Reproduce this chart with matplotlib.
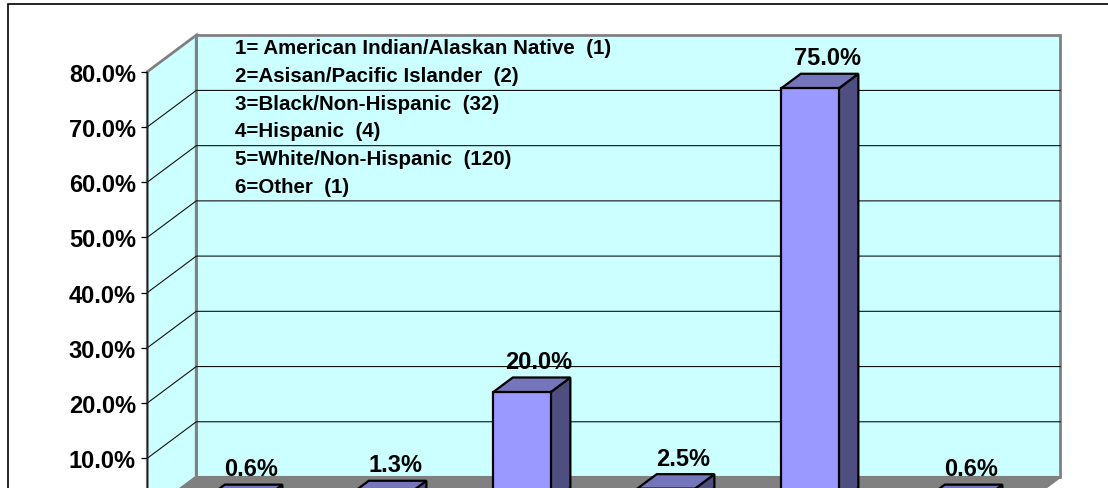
import matplotlib
matplotlib.use("Agg")
import matplotlib.pyplot as plt
from matplotlib.patches import Polygon, Rectangle

plt.rcParams['font.family'] = ['Liberation Sans', 'DejaVu Sans']

# Survey counts by race / ethnicity (n = 160)
categories = [1, 2, 3, 4, 5, 6]
percents = [0.6, 1.3, 20.0, 2.5, 75.0, 0.6]
value_labels = ['0.6%', '1.3%', '20.0%', '2.5%', '75.0%', '0.6%']
tick_values = [10, 20, 30, 40, 50, 60, 70, 80]
tick_labels = ['10.0%', '20.0%', '30.0%', '40.0%',
               '50.0%', '60.0%', '70.0%', '80.0%']
key_lines = [
    '1= American Indian/Alaskan Native  (1)',
    '2=Asisan/Pacific Islander  (2)',
    '3=Black/Non-Hispanic  (32)',
    '4=Hispanic  (4)',
    '5=White/Non-Hispanic  (120)',
    '6=Other  (1)',
]

# Colours of the 3-D look
FRONT = '#9999FF'
TOP = '#7575BB'
SIDE = '#4E4E80'
WALL = '#CCFFFF'
FLOOR = '#808080'
GRAY = '#808080'

# Depth of the plot box (in category units / percent units)
DX = 0.34
DY = 6.61
half_w = 0.2          # half bar width
d0, d1 = 0.3, 0.7     # bar position inside the depth

fig = plt.figure(figsize=(11.08, 4.89), dpi=100)
fig.patch.set_facecolor('white')

# Axes = front plane of the 3-D box
ax = fig.add_axes([0.13294, -0.05215, 0.77978, 0.90348])
ax.set_xlim(0.5, 6.5)
ax.set_ylim(0, 80)
ax.set_facecolor('none')
for s in ['top', 'right', 'bottom']:
    ax.spines[s].set_visible(False)
ax.spines['left'].set_color('#202020')
ax.spines['left'].set_linewidth(1.0)
ax.spines['left'].set_zorder(6)
ax.set_xticks([])
ax.set_yticks(tick_values)
ax.set_yticklabels(tick_labels, fontsize=17, fontweight='bold')
ax.tick_params(axis='y', direction='out', length=4.3, width=0.9, pad=4.0)

xmin, xmax = 0.5, 6.5
ymax = tick_values[-1]

# Back wall
back = Polygon([(xmin + DX, DY), (xmax + DX, DY), (xmax + DX, ymax + DY),
                (xmin + DX, ymax + DY)], closed=True, facecolor=WALL,
               edgecolor=GRAY, linewidth=2, clip_on=False, zorder=1)
ax.add_patch(back)

# Side wall
side = Polygon([(xmin, 0), (xmin, ymax), (xmin + DX, ymax + DY),
                (xmin + DX, DY)], closed=True, facecolor=WALL,
               edgecolor=GRAY, linewidth=2, clip_on=False, zorder=1)
ax.add_patch(side)

# Gridlines across side wall and back wall
for v in tick_values[:-1]:
    ax.plot([xmin, xmin + DX, xmax + DX], [v, v + DY, v + DY],
            color='#111111', linewidth=0.8, clip_on=False, zorder=2)

# Floor
floor = Polygon([(xmin, 0), (xmax, 0), (xmax + DX, DY), (xmin + DX, DY)],
                closed=True, facecolor=FLOOR, edgecolor=GRAY, linewidth=1.5,
                clip_on=False, zorder=3)
ax.add_patch(floor)

# Bars
for x, v, lbl in zip(categories, percents, value_labels):
    xl = x - half_w
    xr = x + half_w
    front = [(xl + d0 * DX, d0 * DY), (xr + d0 * DX, d0 * DY),
             (xr + d0 * DX, v + d0 * DY), (xl + d0 * DX, v + d0 * DY)]
    top = [(xl + d0 * DX, v + d0 * DY), (xr + d0 * DX, v + d0 * DY),
           (xr + d1 * DX, v + d1 * DY), (xl + d1 * DX, v + d1 * DY)]
    right = [(xr + d0 * DX, d0 * DY), (xr + d1 * DX, d1 * DY),
             (xr + d1 * DX, v + d1 * DY), (xr + d0 * DX, v + d0 * DY)]
    for pts, col in [(right, SIDE), (top, TOP), (front, FRONT)]:
        ax.add_patch(Polygon(pts, closed=True, facecolor=col,
                             edgecolor='black', linewidth=1.6,
                             joinstyle='miter', clip_on=False, zorder=4))
    ax.annotate(lbl, (x + 0.65 * DX, v + 0.65 * DY), xytext=(0, 8),
                textcoords='offset points', ha='center', va='baseline',
                fontsize=17, fontweight='bold', annotation_clip=False,
                zorder=5)

# Category key written on the back wall
for i, line in enumerate(key_lines):
    fig.text(235 / 1108, 1 - (54 + i * 27.75) / 489, line,
             fontsize=14.8, fontweight='bold', va='baseline', zorder=7)

# Chart area frame
fig.add_artist(Rectangle((8 / 1108, -0.5), 2, 0.5 + (1 - 5 / 489),
                         transform=fig.transFigure, fill=False,
                         edgecolor='black', linewidth=1.2))

fig.savefig('out.png', dpi=100)
